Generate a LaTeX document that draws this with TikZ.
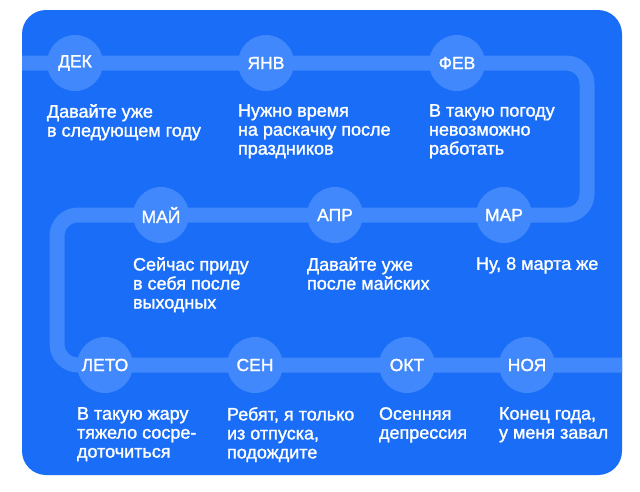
\documentclass[tikz,border=0pt]{standalone}
\usepackage{fontspec}
\newfontfamily\medfont[FakeBold=1.4]{Liberation Sans}
\usepackage{xcolor}
\definecolor{panel}{RGB}{26,109,247}
\definecolor{track}{RGB}{64,136,251}
\pgfdeclarelayer{back}
\pgfsetlayers{back,main}

\begin{document}
\begin{tikzpicture}[x=1pt,y=-1pt,
  month/.style={circle,fill=track,minimum size=56pt,inner sep=0pt,text=white,font=\medfont\fontsize{17.5}{18}\selectfont},
  note/.style={anchor=north west,align=left,inner sep=0pt,text=white,font=\medfont\fontsize{18}{19}\selectfont},
  trackline/.style={draw=track,line width=15pt,rounded corners=21pt}]
\useasboundingbox (0,0) rectangle (640,491);
\coordinate (in) at (22,63);
\coordinate (out) at (622,365);
\coordinate (turnR) at (587,63);
\coordinate (turnL) at (57,215);
\node[month] (dek) at (75,63) {ДЕК};
\node[month] (yanv) at (266,63) {ЯНВ};
\node[month] (fev) at (457,63) {ФЕВ};
\node[month] (mar) at (504,215) {МАР};
\node[month] (apr) at (335,215) {АПР};
\node[month] (may) at (161,215) {МАЙ};
\node[month] (leto) at (105,365) {ЛЕТО};
\node[month] (sen) at (255,365) {СЕН};
\node[month] (okt) at (407,365) {ОКТ};
\node[month] (noya) at (527,365) {НОЯ};
\node[note] (tdek) at ([yshift=-41pt]dek.west) {Давайте уже\\в следующем году};
\node[note] (tyanv) at ([yshift=-41pt]yanv.west) {Нужно время\\на раскачку после\\праздников};
\node[note] (tfev) at ([yshift=-41pt]fev.west) {В такую погоду\\невозможно\\работать};
\node[note] (tmar) at ([yshift=-42pt]mar.west) {Ну, 8 марта же};
\node[note] (tapr) at ([yshift=-42pt]apr.west) {Давайте уже\\после майских};
\node[note] (tmay) at ([yshift=-42pt]may.west) {Сейчас приду\\в себя после\\выходных};
\node[note] (tleto) at ([yshift=-42pt]leto.west) {В такую жару\\тяжело сосре-\\доточиться};
\node[note] (tsen) at ([yshift=-42pt]sen.west) {Ребят, я только\\из отпуска,\\подождите};
\node[note] (tokt) at ([yshift=-42pt]okt.west) {Осенняя\\депрессия};
\node[note] (tnoya) at ([yshift=-42pt]noya.west) {Конец года,\\у меня завал};
\begin{pgfonlayer}{back}
\fill[white] (0,0) rectangle (640,491);
\fill[panel,rounded corners=24pt] (22,10) rectangle (622,475);
\draw[trackline] (in) -- (dek.center) -- (yanv.center) -- (fev.center) -- (turnR) -- (turnR |- mar.center) -- (mar.center) -- (apr.center) -- (may.center) -- (turnL) -- (turnL |- leto.center) -- (leto.center) -- (sen.center) -- (okt.center) -- (noya.center) -- (out);
\end{pgfonlayer}
\end{tikzpicture}
\end{document}
